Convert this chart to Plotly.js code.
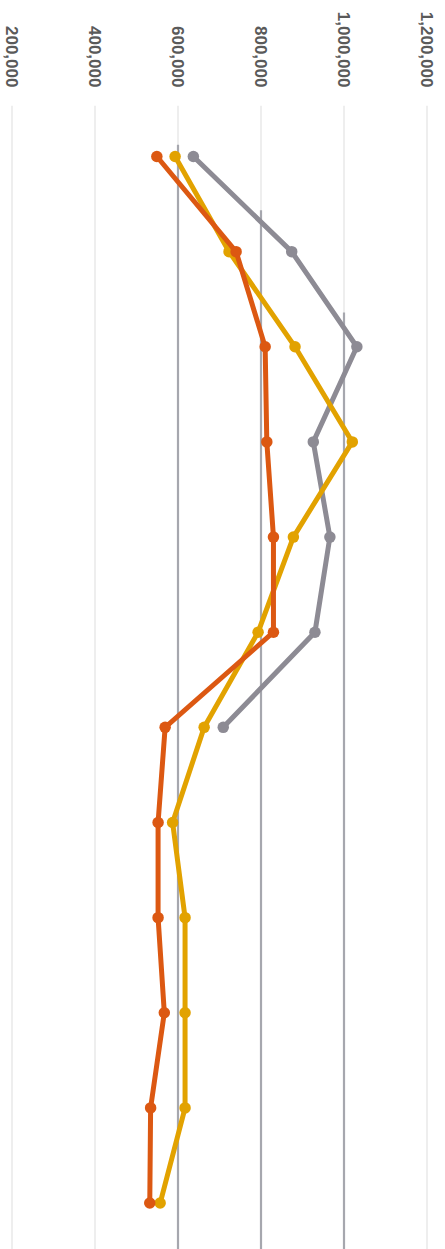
<!DOCTYPE html>
<html>
<head>
<meta charset="utf-8">
<script src="https://cdn.plot.ly/plotly-3.0.1.min.js"></script>
<style>html,body{margin:0;padding:0;background:#fff;}#chart{width:445px;height:1249px;}</style>
</head>
<body>
<div id="chart"></div>
<script>
var categories = ['1','2','3','4','5','6','7','8','9','10','11','12'];
var seriesGray   = [637000, 874000, 1031000, 926000, 966000, 930000, 709000];
var seriesOrange = [549000, 740000, 810000, 814000, 830000, 830000, 569000, 552000, 552000, 567000, 534000, 532000];
var seriesYellow = [593000, 723000, 882000, 1020000, 878000, 793000, 663000, 587000, 617000, 617000, 617000, 557000];
var tickValues = [200000, 400000, 600000, 800000, 1000000, 1200000];
var tickLabels = ['200,000', '400,000', '600,000', '800,000', '1,000,000', '1,200,000'];
var gridTop = [0.995, 0.995, 0.961, 0.904, 0.815, 0.995];
var gridDark = [false, false, true, true, true, false];

function trace(vals, color) {
  return {
    type: 'scatter', mode: 'lines+markers',
    x: vals, y: categories.slice(0, vals.length),
    line: {color: color, width: 5},
    marker: {color: color, size: 11.5},
    hoverinfo: 'skip', showlegend: false, cliponaxis: false
  };
}

var data = [
  trace(seriesGray, '#8d8b94'),
  trace(seriesYellow, '#e2a200'),
  trace(seriesOrange, '#dc5812')
];

var shapes = [];
tickValues.forEach(function (v, i) {
  shapes.push({type: 'line', xref: 'x', yref: 'paper', x0: v, x1: v, y0: 0, y1: 0.995,
    line: {color: '#eeeeee', width: 2}, layer: 'below'});
  if (gridDark[i]) {
    shapes.push({type: 'line', xref: 'x', yref: 'paper', x0: v, x1: v, y0: 0, y1: gridTop[i],
      line: {color: '#a6a7ae', width: 2.2}, layer: 'below'});
  }
});

var layout = {
  width: 445, height: 1249,
  margin: {l: 0, r: 0, t: 100, b: 0},
  paper_bgcolor: '#ffffff', plot_bgcolor: '#ffffff',
  xaxis: {
    side: 'top', range: [171084, 1243373], tickvals: tickValues, ticktext: tickLabels,
    tickangle: 90, showgrid: false,
    zeroline: false, showline: false, ticks: '', ticklabelstandoff: 9,
    tickfont: {family: 'Liberation Sans, Arial, sans-serif', size: 17, color: '#5a5a5a', weight: 'bold'}
  },
  yaxis: {
    type: 'category', range: [11.483, -0.594], showticklabels: false,
    showgrid: false, zeroline: false, showline: false, ticks: ''
  },
  shapes: shapes
};

Plotly.newPlot('chart', data, layout, {displayModeBar: false, staticPlot: true});
</script>
</body>
</html>
